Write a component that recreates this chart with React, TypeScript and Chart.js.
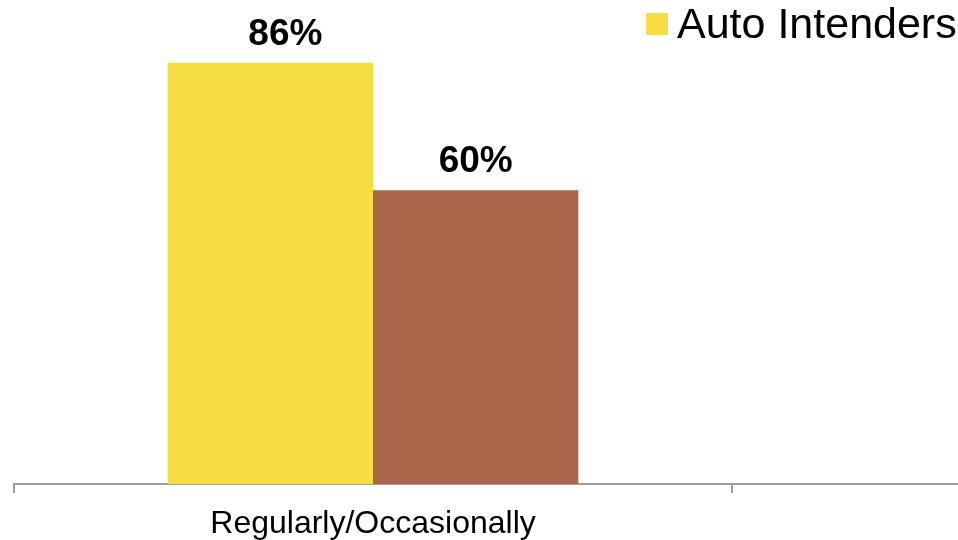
import { useEffect, useRef } from 'react';
import { Chart, registerables } from 'chart.js';

Chart.register(...registerables);

// Categories along the x axis (second slot is an empty group)
const categories: string[] = ['Regularly/Occasionally', ''];

// Series names
const seriesNames: string[] = ['Auto Intenders', 'Comparison'];

// Series values (percent)
const autoIntenders: (number | null)[] = [86, null];
const comparison: (number | null)[] = [60, null];

const seriesColors: string[] = ['#F6DD42', '#AB654A'];

const FONT = '"Liberation Sans", Arial, Helvetica, sans-serif';

// Percent labels above each bar
const valueLabelsPlugin = {
  id: 'valueLabels',
  afterDatasetsDraw(chart: any, _args: any, opts: any) {
    const { ctx } = chart;
    ctx.save();
    ctx.font = `bold ${opts.size}px ${FONT}`;
    ctx.fillStyle = '#000';
    ctx.textAlign = 'center';
    ctx.textBaseline = 'alphabetic';
    chart.data.datasets.forEach((ds: any, di: number) => {
      const meta = chart.getDatasetMeta(di);
      const dx = (opts.dx && opts.dx[di]) || 0;
      meta.data.forEach((el: any, i: number) => {
        const v = ds.data[i];
        if (v === null || v === undefined) return;
        ctx.fillText(`${v}%`, el.x + dx, el.y - opts.gap);
      });
    });
    ctx.restore();
  },
};

// Single-entry legend in the top band
const topLegendPlugin = {
  id: 'topLegend',
  afterDraw(chart: any, _args: any, opts: any) {
    const { ctx } = chart;
    const ds = chart.data.datasets[0];
    ctx.save();
    ctx.fillStyle = ds.backgroundColor;
    ctx.fillRect(opts.x, opts.y, opts.box, opts.box);
    ctx.font = `${opts.size}px ${FONT}`;
    ctx.fillStyle = '#000';
    ctx.textAlign = 'left';
    ctx.textBaseline = 'alphabetic';
    ctx.fillText(ds.label, opts.x + opts.box + opts.gap, opts.baseline);
    ctx.restore();
  },
};

export default function App() {
  const canvasRef = useRef<HTMLCanvasElement | null>(null);

  useEffect(() => {
    if (!canvasRef.current) return;
    const chart = new Chart(canvasRef.current, {
      type: 'bar',
      data: {
        labels: categories,
        datasets: [
          {
            label: seriesNames[0],
            data: autoIntenders,
            backgroundColor: seriesColors[0],
            borderWidth: 0,
            categoryPercentage: 0.572,
            barPercentage: 1,
          },
          {
            label: seriesNames[1],
            data: comparison,
            backgroundColor: seriesColors[1],
            borderWidth: 0,
            categoryPercentage: 0.572,
            barPercentage: 1,
          },
        ],
      },
      options: {
        animation: false,
        responsive: true,
        maintainAspectRatio: false,
        layout: { padding: { top: 53, left: 14, right: 10, bottom: 0 } },
        plugins: {
          legend: { display: false },
          tooltip: { enabled: false },
          valueLabels: { size: 37, gap: 18, dx: [15, 0] },
          topLegend: { x: 646, y: 13, box: 22, gap: 9, size: 43, baseline: 38 },
        } as any,
        scales: {
          x: {
            grid: {
              display: true,
              drawOnChartArea: false,
              drawTicks: true,
              tickLength: 9,
              color: '#9c9c9c',
              lineWidth: 2,
              offset: true,
            },
            border: { display: true, color: '#9c9c9c', width: 2 },
            ticks: {
              color: '#000',
              font: { family: FONT, size: 32 },
              padding: 12,
              maxRotation: 0,
              autoSkip: false,
            },
            afterFit(scale: any) {
              scale.height = 56;
            },
          },
          y: {
            display: false,
            min: 0,
            max: 88,
            grid: { display: false },
          },
        },
      },
      plugins: [valueLabelsPlugin, topLegendPlugin],
    });
    return () => chart.destroy();
  }, []);

  return (
    <div
      style={{
        position: 'absolute',
        left: 0,
        top: 0,
        width: 958,
        height: 540,
        overflow: 'hidden',
        background: '#fff',
      }}
    >
      <div style={{ position: 'relative', width: 1460, height: 540 }}>
        <canvas ref={canvasRef} />
      </div>
    </div>
  );
}
